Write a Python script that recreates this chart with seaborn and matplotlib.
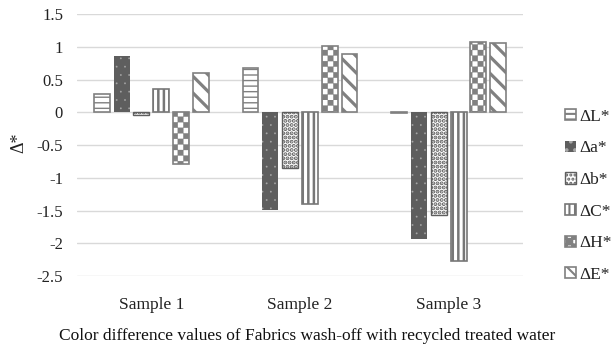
import numpy as np
import pandas as pd
import matplotlib
matplotlib.use("Agg")
import matplotlib.pyplot as plt
import matplotlib.hatch as mhatch
import seaborn as sns

# ---------------- data ----------------
samples = ["Sample 1", "Sample 2", "Sample 3"]
metrics = ["ΔL*", "Δa*", "Δb*", "ΔC*", "ΔH*", "ΔE*"]
dL = [0.28, 0.68, -0.01]
da = [0.86, -1.49, -1.94]
db = [-0.04, -0.85, -1.57]
dC = [0.36, -1.40, -2.27]
dH = [-0.79, 1.01, 1.07]
dE = [0.60, 0.89, 1.06]
ytick_values = [-2.5, -2, -1.5, -1, -0.5, 0, 0.5, 1, 1.5]
ytick_labels = ["-2.5", "-2", "-1.5", "-1", "-0.5", "0", "0.5", "1", "1.5"]
caption = "Color difference values of Fabrics wash-off with recycled treated water"


# ------------- checkerboard hatch (replaces the '*' star hatch) -------------
class CheckerHatch(mhatch.HatchPatternBase):
    def __init__(self, hatch, density):
        n = hatch.count('*') * density
        n = n + (n % 2)
        self.n = n
        self.num_vertices = (n * n // 2) * 5 if n else 0

    def set_vertices_and_codes(self, vertices, codes):
        n = self.n
        s = 1.0 / n
        vs, cs = [], []
        for i in range(n):
            for j in range(n):
                if (i + j) % 2 == 0:
                    x0, y0 = i * s, j * s
                    vs += [[x0, y0], [x0 + s, y0], [x0 + s, y0 + s], [x0, y0 + s], [x0, y0]]
                    cs += [1, 2, 2, 2, 79]
        vertices[:] = np.array(vs)
        codes[:] = np.array(cs)


for k, t in enumerate(mhatch._hatch_types):
    if t.__name__ == "Stars":
        mhatch._hatch_types[k] = CheckerHatch

# ---------------- styling ----------------
sns.set_theme(style="white")
plt.rcParams["font.family"] = ["Liberation Serif", "DejaVu Serif"]
plt.rcParams["axes.unicode_minus"] = False
plt.rcParams["hatch.linewidth"] = 1.5

df = pd.DataFrame({
    "sample": np.repeat(samples, len(metrics)),
    "metric": metrics * len(samples),
    "value": np.array([dL, da, db, dC, dH, dE]).T.ravel(),
})

fig = plt.figure(figsize=(6.14, 3.56), dpi=100)
ax = fig.add_axes([77 / 614, 1 - 276 / 356, (523 - 77) / 614, (276 - 14.3) / 356])

sns.barplot(data=df, x="sample", y="value", hue="metric", order=samples,
            hue_order=metrics, width=0.8, gap=0.2, errorbar=None, ax=ax,
            legend=False)

gray = "#808080"
styles = [
    dict(fc="white", ec=gray, hatch="---", hlw=1.0, lw=1.2),
    dict(fc="#5e5e5e", ec="#a8a8a8", hatch="..", hlw=0.1, lw=0.0),
    dict(fc="white", ec="#5e5e5e", hatch="....", hlw=2.0, lw=1.0),
    dict(fc="white", ec="#777777", hatch="|||", hlw=1.8, lw=1.2),
    dict(fc="white", ec=gray, hatch="***", hlw=0.2, lw=1.2),
    dict(fc="white", ec=gray, hatch="\\\\", hlw=2.3, lw=1.2),
]

for cont, st in zip(ax.containers, styles):
    for p in cont.patches:
        p.set_facecolor(st["fc"])
        p.set_edgecolor(st["ec"])
        p.set_hatch(st["hatch"])
        p.set_linewidth(st["lw"])
        if hasattr(p, "set_hatch_linewidth"):
            p.set_hatch_linewidth(st["hlw"])
        else:
            p._hatch_linewidth = st["hlw"]

ax.set_ylim(-2.5, 1.5)
ax.set_yticks(ytick_values)
ax.set_yticklabels(ytick_labels)
ax.yaxis.grid(True, color="#d9d9d9", linewidth=1.0)
ax.set_axisbelow(True)
for s in ax.spines.values():
    s.set_visible(False)
ax.tick_params(axis="y", length=0, pad=10, labelsize=12, colors="#222222")
ax.tick_params(axis="x", length=0, pad=15, labelsize=12.5, colors="#222222")
ax.set_xlabel("")
ax.set_ylabel("")

fig.text(0.031, 1 - 143 / 356, "Δ*", rotation=90, ha="center", va="center",
         fontsize=13, color="#222222")
fig.text(0.5, 0.056, caption, ha="center", va="center", fontsize=12.5,
         color="#111111")

leg = fig.legend(handles=list(ax.containers), labels=metrics, loc="center left",
                 bbox_to_anchor=(0.92, 0.45), frameon=False, fontsize=12.5,
                 handlelength=0.62, handleheight=0.62, handletextpad=0.22,
                 labelspacing=0.9, borderpad=0, borderaxespad=0)
for t in leg.get_texts():
    t.set_color("#222222")

fig.savefig("out.png", dpi=100)
